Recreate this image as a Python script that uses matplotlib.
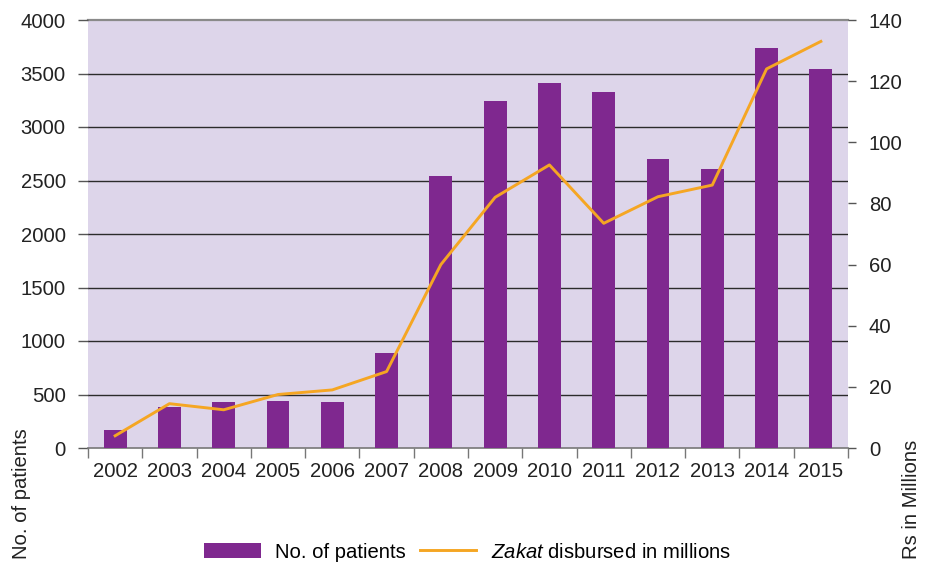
import numpy as np
import matplotlib.pyplot as plt
from matplotlib.patches import Patch
from matplotlib.lines import Line2D

plt.rcParams['font.family'] = 'Liberation Sans'
plt.rcParams['mathtext.fontset'] = 'custom'
plt.rcParams['mathtext.it'] = 'Liberation Sans:italic'
plt.rcParams['mathtext.rm'] = 'Liberation Sans'

# datos
years = ['2002', '2003', '2004', '2005', '2006', '2007', '2008',
         '2009', '2010', '2011', '2012', '2013', '2014', '2015']
patients = [170, 380, 430, 440, 430, 890, 2540, 3240, 3410, 3325, 2700, 2610, 3740, 3540]
zakat = [4, 14.5, 12.5, 17.5, 19, 25, 60, 82, 92.6, 73.5, 82.2, 86, 124, 133]

purple = '#7F288F'
orange = '#F5A623'
fondo = '#DDD5EA'
fs = 14.6

fig = plt.figure(figsize=(9.31, 5.63), dpi=100)
ax = fig.add_axes([88 / 931, 1 - 448 / 563, (848 - 88) / 931, (448 - 20) / 563])
ax.set_facecolor(fondo)

x = np.arange(len(years))
ax.bar(x, patients, width=0.42, color=purple, zorder=3)
ax.set_ylim(0, 4000)
ax.set_yticks(np.arange(0, 4001, 500))
ax.set_xlim(-0.5, len(years) - 0.5)
# lineas de cuadricula (la superior mas clara)
for v in np.arange(500, 4000, 500):
    ax.axhline(v, color='#2b2b2b', linewidth=1.0, zorder=1)
ax.axhline(4000, color='#8a8a8a', linewidth=1.6, zorder=1, clip_on=False)

ax.set_xticks(x)
ax.set_xticklabels(years)
ax.set_xticks(np.arange(-0.5, len(years)), minor=True)
ax.tick_params(axis='x', which='major', length=0, pad=10, labelsize=fs, colors='#222222')
ax.tick_params(axis='x', which='minor', length=7, width=1, color='#777777')
ax.tick_params(axis='y', length=7, width=1, color='#555555', labelsize=fs, pad=9, labelcolor='#222222')

for s in ['top', 'right', 'left']:
    ax.spines[s].set_visible(False)
ax.spines['bottom'].set_color('#777777')
ax.spines['bottom'].set_linewidth(1.2)

ax2 = ax.twinx()
ax2.plot(x, zakat, color=orange, linewidth=2.1, zorder=4)
ax2.set_ylim(0, 140)
ax2.set_yticks(np.arange(0, 141, 20))
ax2.tick_params(axis='y', length=6, width=1, color='#555555', labelsize=fs, pad=9, labelcolor='#222222')
for s in ['top', 'right', 'left', 'bottom']:
    ax2.spines[s].set_visible(False)

fig.text(12 / 931, 4 / 563, 'No. of patients', rotation=90, ha='left', va='bottom',
         fontsize=fs, color='#222222')
fig.text(902 / 931, 4 / 563, 'Rs in Millions', rotation=90, ha='left', va='bottom',
         fontsize=fs, color='#222222')

handles = [Patch(facecolor=purple), Line2D([], [], color=orange, linewidth=2.1)]
labels = ['No. of patients', r'$\it{Zakat}$ disbursed in millions']
fig.legend(handles, labels, loc='lower center', bbox_to_anchor=(0.502, -0.03), ncol=2,
           frameon=False, fontsize=fs, handlelength=2.8, handleheight=0.8,
           columnspacing=0.7, handletextpad=0.7)

fig.savefig('out.png', dpi=100)
